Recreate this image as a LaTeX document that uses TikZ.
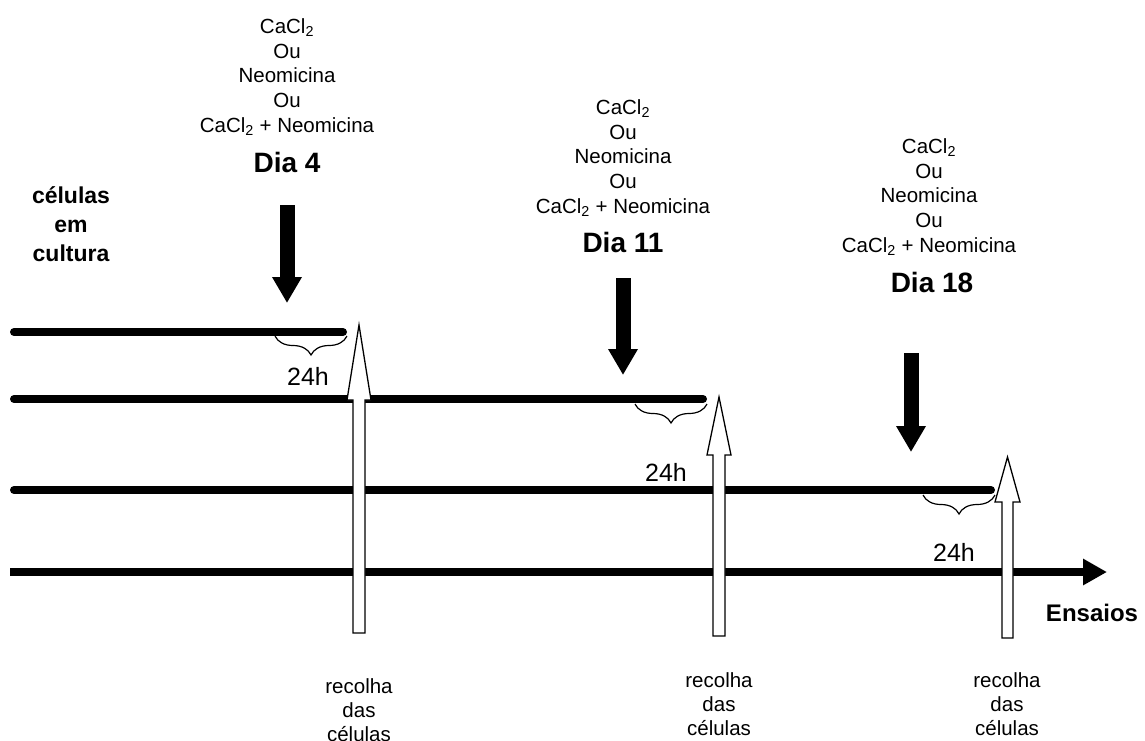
\documentclass[tikz,border=0pt]{standalone}
\usepackage{fontspec}
\setmainfont{Liberation Sans}
\usetikzlibrary{arrows.meta,decorations.pathreplacing}
\tikzset{
  small/.style={align=center,inner sep=0pt,font=\fontsize{20.5}{24.6}\selectfont},
  daylabel/.style={inner sep=0pt,font=\fontsize{28}{32}\selectfont\bfseries},
  hours/.style={inner sep=0pt,font=\fontsize{25}{28}\selectfont},
  boldlabel/.style={align=center,inner sep=0pt,font=\fontsize{23}{29}\selectfont\bfseries},
  timeline/.style={line width=8pt,line cap=round},
  dosearrow/.style={line width=15pt,-{Triangle[length=26pt,width=28pt]}},
  collectarrow/.style={draw=black,fill=white,line width=1.3pt,line join=miter},
  bracestyle/.style={decorate,decoration={brace,amplitude=19pt},line width=1.2pt},
}
\begin{document}
\begin{tikzpicture}[x=1pt,y=-1pt]
\useasboundingbox (0,0) rectangle (1145,740);

% treatment texts
\node[small] (t1) at (287,77) {CaCl\textsubscript{2}\\Ou\\Neomicina\\Ou\\CaCl\textsubscript{2} + Neomicina};
\node[daylabel] (d1) at (287,162) {Dia 4};
\node[small] (t2) at (623,158) {CaCl\textsubscript{2}\\Ou\\Neomicina\\Ou\\CaCl\textsubscript{2} + Neomicina};
\node[daylabel] (d2) at (623,242) {Dia 11};
\node[small] (t3) at (929,197) {CaCl\textsubscript{2}\\Ou\\Neomicina\\Ou\\CaCl\textsubscript{2} + Neomicina};
\node[daylabel] (d3) at (932,282) {Dia 18};

\node[boldlabel] (cult) at (71,224) {células\\em\\cultura};

% timelines
\coordinate (l1a) at (14,332); \coordinate (l1b) at (343,332);
\coordinate (l2a) at (14,399); \coordinate (l2b) at (703,399);
\coordinate (l3a) at (14,490); \coordinate (l3b) at (991,490);
\coordinate (l4a) at (10,572); \coordinate (l4b) at (1107,572);
\draw[timeline] (l1a) -- (l1b);
\draw[timeline] (l2a) -- (l2b);
\draw[timeline] (l3a) -- (l3b);
\draw[line width=8pt,-{Triangle[length=24pt,width=25pt]}] (l4a) -- (l4b);

% braces
\draw[bracestyle] (347,336) -- (275,336);
\draw[bracestyle] (707,404) -- (635,404);
\draw[bracestyle] (995,495) -- (923,495);

\node[hours] (h1) at (308,376) {24h};
\node[hours] (h2) at (666,472) {24h};
\node[hours] (h3) at (954,552) {24h};

% dose arrows
\coordinate (a1s) at (287,205); \coordinate (a1e) at (287,303);
\coordinate (a2s) at (623,278); \coordinate (a2e) at (623,375);
\coordinate (a3s) at (911,353); \coordinate (a3e) at (911,452);
\draw[dosearrow] (a1s) -- (a1e);
\draw[dosearrow] (a2s) -- (a2e);
\draw[dosearrow] (a3s) -- (a3e);

% collection arrows
\draw[collectarrow] (353,633) -- (353,400) -- (347,400) -- (359,325) -- (371,400) -- (365,400) -- (365,633) -- cycle;
\draw[collectarrow] (713,636) -- (713,455) -- (707,455) -- (719,397) -- (731,455) -- (725,455) -- (725,636) -- cycle;
\draw[collectarrow] (1002,638) -- (1002,502) -- (995,502) -- (1007.5,457) -- (1020,502) -- (1013,502) -- (1013,638) -- cycle;

\node[boldlabel,font=\fontsize{24}{29}\selectfont\bfseries] (ens) at (1092,613) {Ensaios};

\node[small,font=\fontsize{20.5}{24}\selectfont] (r1) at (359,710) {recolha\\das\\células};
\node[small,font=\fontsize{20.5}{24}\selectfont] (r2) at (719,704) {recolha\\das\\células};
\node[small,font=\fontsize{20.5}{24}\selectfont] (r3) at (1007,704) {recolha\\das\\células};
\end{tikzpicture}
\end{document}
